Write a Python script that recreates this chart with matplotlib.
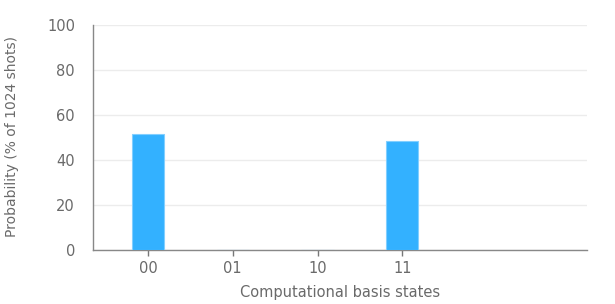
import matplotlib
matplotlib.use("Agg")
import matplotlib.pyplot as plt

states = ["00", "01", "10", "11"]
probabilities = [51.5, 0, 0, 48.5]
y_ticks = [0, 20, 40, 60, 80, 100]

plt.rcParams['font.family'] = ['DejaVu Sans']

fig = plt.figure(figsize=(6.15, 3.04), dpi=100)
ax = fig.add_axes([93/615, 1-250/304, (587-93)/615, (250-25)/304])

x = list(range(len(states)))
ax.bar(x, probabilities, width=0.38, color="#33b1ff", edgecolor="#82cfff", linewidth=0.8, zorder=3)

ax.set_xlim(-0.65, 5.18)
ax.set_ylim(0, 100)
ax.set_xticks(x)
ax.set_xticklabels(states)
ax.set_yticks(y_ticks)
ax.yaxis.grid(True, color="#ececec", linewidth=1, zorder=0)
ax.tick_params(axis='y', length=0, pad=13, labelsize=10.5, labelcolor="#6a6a6a")
ax.tick_params(axis='x', length=4, width=1, color="#777777", pad=4, labelsize=10.5, labelcolor="#6a6a6a")
for s in ["top", "right"]:
    ax.spines[s].set_visible(False)
for s in ["left", "bottom"]:
    ax.spines[s].set_color("#888888")
    ax.spines[s].set_linewidth(1)

fig.text(12/615, 1-137/304, "Probability (% of 1024 shots)", rotation=90, ha="center", va="center", fontsize=10, color="#6a6a6a")
fig.text(340/615, 1-293/304, "Computational basis states", ha="center", va="center", fontsize=10.5, color="#6a6a6a")

fig.savefig("out.png", dpi=100)
